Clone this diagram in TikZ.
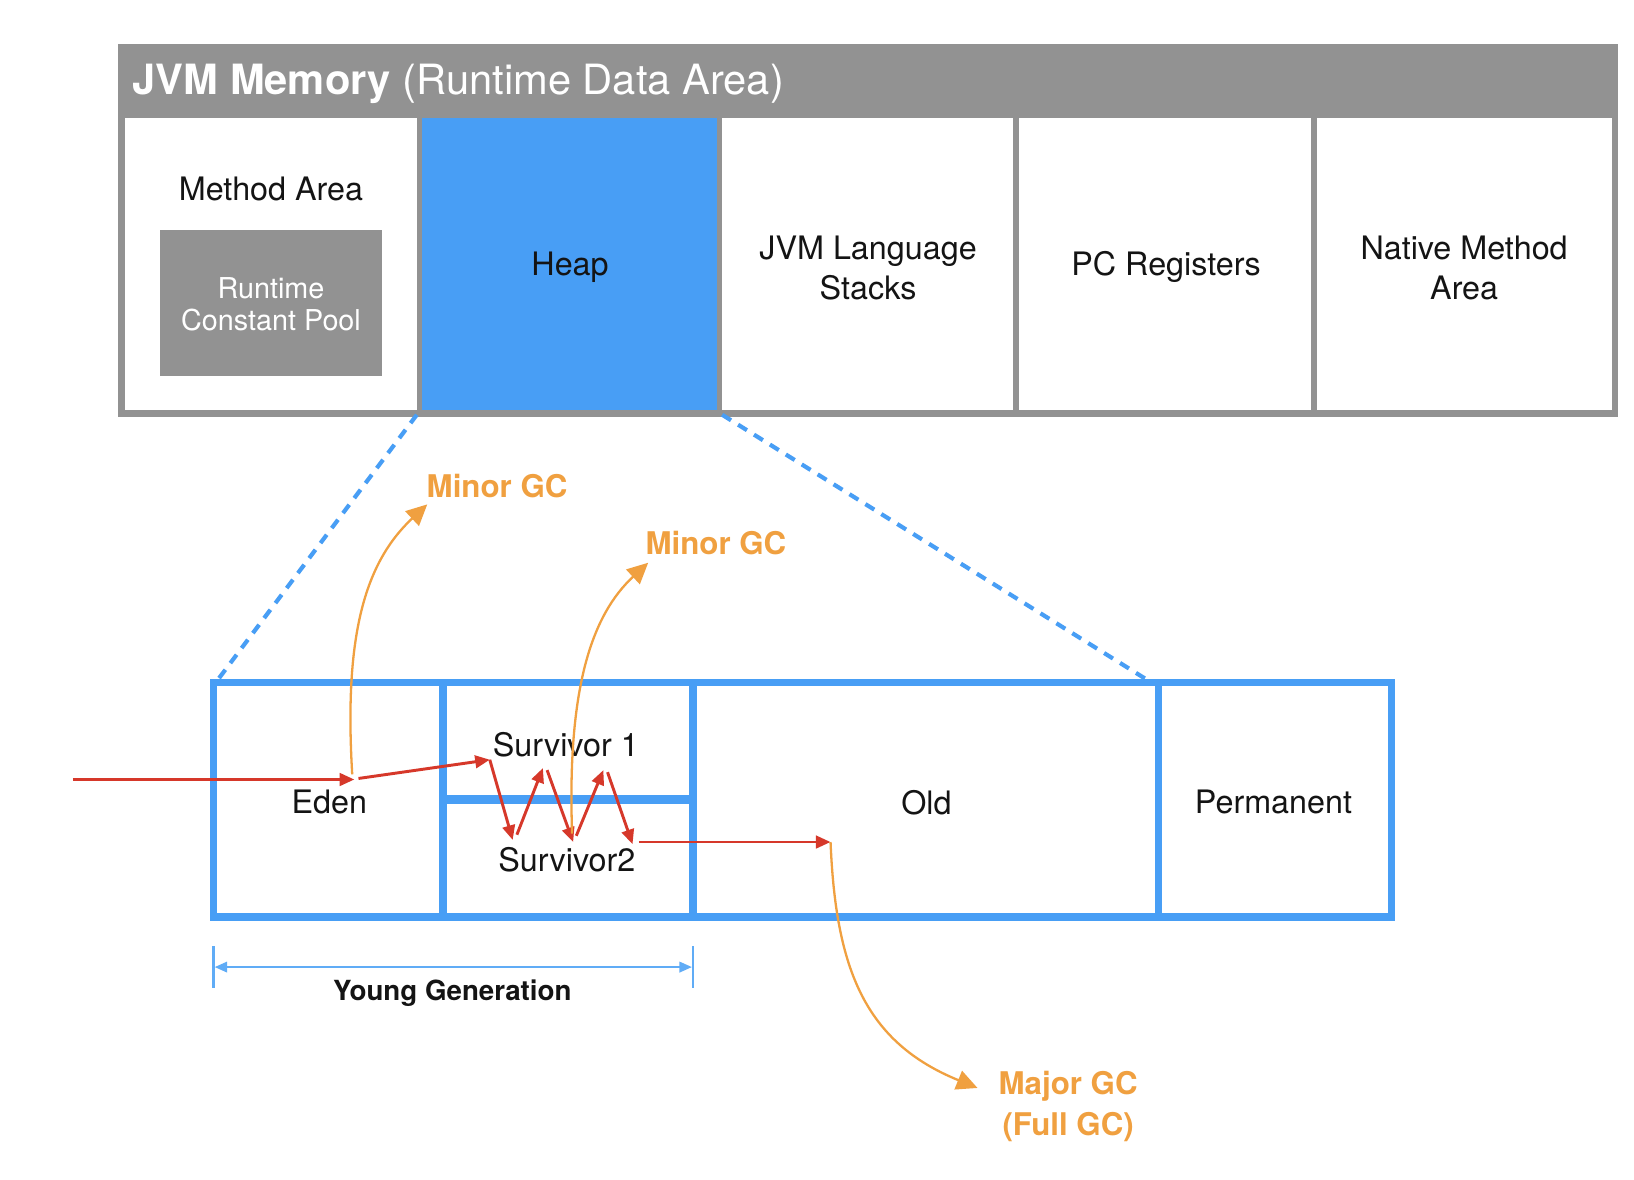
\documentclass[tikz,border=0pt]{standalone}
\usepackage{fontspec}
\setmainfont{TeX Gyre Heros}
\usetikzlibrary{arrows.meta}
\definecolor{jgray}{RGB}{146,146,146}
\definecolor{jblue}{RGB}{72,158,245}
\definecolor{jlblue}{RGB}{96,172,246}
\definecolor{jorange}{RGB}{240,160,64}
\definecolor{jred}{RGB}{214,56,42}
\definecolor{jtext}{RGB}{20,20,20}
\begin{document}
\begin{tikzpicture}[x=0.5pt,y=-0.5pt,
  lbl/.style={font=\fontsize{15.5}{19}\selectfont, text=jtext, align=center, inner sep=0pt},
  olbl/.style={font=\fontsize{15}{19.5}\selectfont\bfseries, text=jorange, align=center, inner sep=0pt},
  heapline/.style={draw=jblue, line width=3.5pt},
  zoomline/.style={draw=jblue, line width=2pt, dash pattern=on 5pt off 4pt},
  redarr/.style={draw=jred, line width=1.4pt, -{Triangle[length=7pt,width=6pt]}},
  orarr/.style={draw=jorange, line width=1.1pt, -{Triangle[length=10pt,width=9.5pt]}},
  dimline/.style={draw=jlblue, line width=1.1pt}
]
\useasboundingbox (0,0) rectangle (1568,1132);
\fill[white] (0,0) rectangle (1568,1132);
% ---- JVM memory
\fill[jgray] (113,42) rectangle (1553,400);
\fill[white] (120,113) rectangle (400,393);
\fill[jblue] (405,113) rectangle (688,393);
\fill[white] (693,113) rectangle (972,393);
\fill[white] (978,113) rectangle (1258,393);
\fill[white] (1264,113) rectangle (1547,393);
\fill[jgray] (154,221) rectangle (367,361);
\node[anchor=west, text=white, inner sep=0pt, font=\fontsize{20}{23}\selectfont] (title) at (127,80) {\textbf{JVM Memory} (Runtime Data Area)};
\node[lbl] (ma) at (260,181) {Method Area};
\node[lbl, text=white, font=\fontsize{13.8}{15.5}\selectfont] (rcp) at (260,292) {Runtime\\Constant Pool};
\node[lbl] (heap) at (547,256) {Heap};
\node[lbl] (jls) at (833,257) {JVM Language\\Stacks};
\node[lbl] (pc) at (1119,256) {PC Registers};
\node[lbl] (nma) at (1405,257) {Native Method\\Area};
% ---- zoom lines
\coordinate (hb1) at (400,398);
\coordinate (hb2) at (693,398);
\coordinate (lb1) at (207,655);
\coordinate (lb2) at (1105,655);
\draw[zoomline] (hb1) -- (lb1);
\draw[zoomline] (hb2) -- (lb2);
% ---- heap detail
\draw[heapline] (205,655) rectangle (1335,880);
\draw[heapline] (425,655) -- (425,880);
\draw[heapline] (665,655) -- (665,880);
\draw[heapline] (1112,655) -- (1112,880);
\draw[draw=jblue, line width=4.5pt] (425,767) -- (665,767);
\node[lbl] (eden) at (316,770) {Eden};
\node[lbl] (s1) at (543,715) {Survivor 1};
\node[lbl] (s2) at (544,825) {Survivor2};
\node[lbl] (old) at (889,770) {Old};
\node[lbl] (perm) at (1222,770) {Permanent};
% ---- red flow
\coordinate (in) at (70,748);
\coordinate (e1) at (340,748);
\coordinate (e2) at (344,747);
\coordinate (z0) at (470,729);
\coordinate (z1) at (492,806);
\coordinate (z1b) at (496,801);
\coordinate (z2) at (521,737);
\coordinate (z2b) at (525,739);
\coordinate (z3) at (550,808);
\coordinate (z3b) at (553,802);
\coordinate (z4) at (579,739);
\coordinate (z4b) at (583,741);
\coordinate (z5) at (607,810);
\coordinate (z5b) at (613,808);
\coordinate (o1) at (797,808);
\draw[redarr] (in) -- (e1);
\draw[redarr] (e2) -- (z0);
\draw[redarr] (z0) -- (z1);
\draw[redarr] (z1b) -- (z2);
\draw[redarr] (z2b) -- (z3);
\draw[redarr] (z3b) -- (z4);
\draw[redarr] (z4b) -- (z5);
\draw[redarr] (z5b) -- (o1);
% ---- GC arrows
\node[olbl] (gc1) at (477,466) {Minor GC};
\node[olbl] (gc2) at (687,521) {Minor GC};
\node[olbl] (gc3) at (1025,1062) {Major GC\\(Full GC)};
\coordinate (g1s) at (338,743);
\coordinate (g1e) at (410,484);
\coordinate (g2s) at (549,800);
\coordinate (g2e) at (622,540);
\coordinate (g3s) at (797,808);
\coordinate (g3e) at (938,1044);
\draw[orarr] (g1s) .. controls (330,610) and (350,540) .. (g1e);
\draw[orarr] (g2s) .. controls (544,660) and (568,590) .. (g2e);
\draw[orarr] (g3s) .. controls (802,930) and (830,1000) .. (g3e);
% ---- young generation
\coordinate (y1t) at (205,908);
\coordinate (y1b) at (205,948);
\coordinate (y2t) at (665,908);
\coordinate (y2b) at (665,948);
\coordinate (y1) at (206,928);
\coordinate (y2) at (664,928);
\draw[dimline] (y1t) -- (y1b);
\draw[dimline] (y2t) -- (y2b);
\draw[dimline, {Triangle[length=6pt,width=5pt]}-{Triangle[length=6pt,width=5pt]}] (y1) -- (y2);
\node[lbl, font=\fontsize{13.3}{15}\selectfont\bfseries] (yg) at (434,953) {Young Generation};
\end{tikzpicture}
\end{document}
